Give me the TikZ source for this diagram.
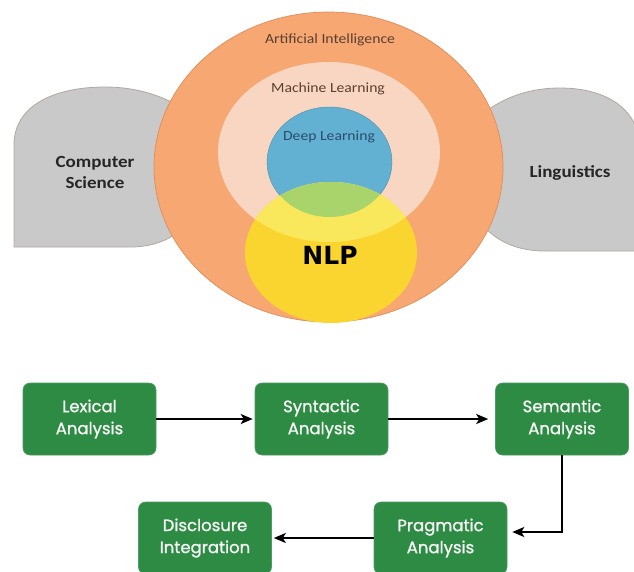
\documentclass[tikz,border=0pt]{standalone}
\usepackage{fontspec}
\setmainfont{Carlito}
\newfontfamily\boxfont[FakeBold=1.2]{Poppins}
\newfontfamily\nlpfont{DejaVu Sans}
\usetikzlibrary{arrows.meta}
\definecolor{orangeC}{HTML}{F6A772}
\definecolor{orangeE}{HTML}{E08D58}
\definecolor{peachC}{HTML}{F9D6C1}
\definecolor{blueC}{HTML}{62B1D3}
\definecolor{greenC}{HTML}{A9D36B}
\definecolor{yellowC}{HTML}{FBD52F}
\definecolor{yellowL}{HTML}{F9E85C}
\definecolor{grayC}{HTML}{C9C9CA}
\definecolor{grayE}{HTML}{B3A79F}
\definecolor{boxC}{HTML}{2E8B44}
\definecolor{aiText}{HTML}{5A4032}
\definecolor{dlText}{HTML}{2C4C6C}
\tikzset{
  stepbox/.style={fill=boxC, draw=boxC!85!white, line width=0.6pt, rounded corners=7pt,
    minimum width=133pt, minimum height=72pt, align=center, text=white!96!black,
    font=\boxfont\fontsize{16.5}{22}\selectfont, inner sep=0pt},
  arr/.style={line width=2pt, -{Stealth[length=12pt,width=10pt,inset=3pt]}, shorten >=2pt},
  grayshape/.style={fill=grayC, draw=grayE, line width=0.8pt},
  small/.style={font=\fontsize{14}{16}\selectfont, xscale=1.12},
  side/.style={font=\bfseries\fontsize{17}{21}\selectfont, text=black!85, align=center, xscale=1.12}
}
\begin{document}
\begin{tikzpicture}[x=1pt,y=-1pt]
\useasboundingbox (0,0) rectangle (634,571);
\clip (0,0) rectangle (634,571);
% gray side shapes
\path[grayshape] (14,247) -- (14,145) .. controls (14,105) and (55,87) .. (105,87)
  .. controls (150,87) and (185,105) .. (200,125) -- (200,200)
  .. controls (190,230) and (165,247) .. (130,247) -- cycle;
\path[grayshape] (640,251) -- (640,150) .. controls (640,108) and (605,88) .. (560,88)
  .. controls (525,88) and (495,100) .. (470,125) -- (470,200)
  .. controls (480,235) and (510,251) .. (545,251) -- cycle;
% circles
\path[fill=orangeC, draw=orangeE, line width=0.7pt] (328.5,167) ellipse [x radius=174.5, y radius=155];
\path[fill=peachC] (329,152) ellipse [x radius=111, y radius=90];
\path[fill=blueC, draw=blueC!80!black, line width=0.4pt] (329.5,162) ellipse [x radius=62.5, y radius=55];
\path[fill=yellowC] (331,252.5) ellipse [x radius=86, y radius=70.5];
\begin{scope}
  \clip (329,152) ellipse [x radius=111, y radius=90];
  \path[fill=yellowL] (331,252.5) ellipse [x radius=86, y radius=70.5];
\end{scope}
\begin{scope}
  \clip (329.5,162) ellipse [x radius=62.5, y radius=55];
  \path[fill=greenC] (331,252.5) ellipse [x radius=86, y radius=70.5];
\end{scope}
% labels
\node[small, text=aiText] (ai) at (330,40) {Artificial Intelligence};
\node[small, text=aiText] (ml) at (328,89) {Machine Learning};
\node[small, text=dlText] (dl) at (329,137) {Deep Learning};
\node[font=\nlpfont\bfseries\fontsize{25}{28}\selectfont] (nlp) at (330,255) {NLP};
\node[side] (cs) at (95,172) {Computer\\Science};
\node[side] (li) at (570,173) {Linguistics};
% pipeline
\node[stepbox] (lex) at (89.5,419) {Lexical\\Analysis};
\node[stepbox] (syn) at (321.5,419) {Syntactic\\Analysis};
\node[stepbox] (sem) at (562,419) {Semantic\\Analysis};
\node[stepbox] (prag) at (440.5,538) {Pragmatic\\Analysis};
\node[stepbox] (disc) at (205,538) {Disclosure\\Integration};
\draw[arr] (lex) -- (syn);
\draw[arr, shorten >=7pt] (syn) -- (sem);
\draw[arr, shorten >=5pt] (sem.south) |- ([yshift=6pt]prag.east);
\draw[arr] (prag) -- (disc);
\end{tikzpicture}
\end{document}
